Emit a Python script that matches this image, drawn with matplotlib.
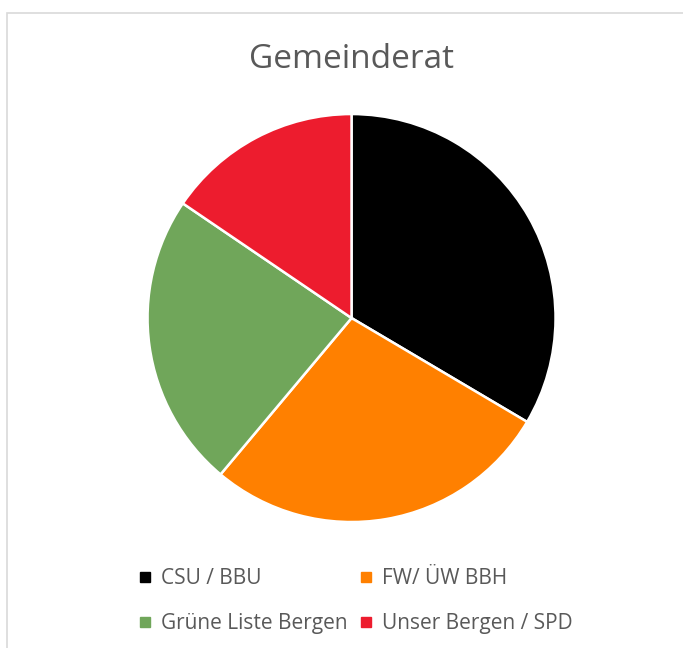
import matplotlib
matplotlib.use('Agg')
import matplotlib.pyplot as plt
from matplotlib.lines import Line2D
from matplotlib.patches import Rectangle

plt.rcParams['font.family'] = ['Open Sans', 'DejaVu Sans']

# seat shares (percent)
parties = ['CSU / BBU', 'FW/ ÜW BBH', 'Grüne Liste Bergen', 'Unser Bergen / SPD']
shares = [33.5, 27.6, 23.4, 15.5]
colors = ['#000000', '#FF8000', '#70A65A', '#ED1C2E']

fig = plt.figure(figsize=(6.83, 6.48), dpi=100)

# chart area border (light gray frame, cut off at right/bottom)
fig.patches.append(Rectangle((7/683, -0.1), 1.1, (648-13)/648 + 0.1,
                             transform=fig.transFigure, fill=False,
                             edgecolor='#D9D9D9', linewidth=1.2))

ax = fig.add_axes([0.216, 0.1944, 0.5974, 0.6296])
ax.pie(shares, colors=colors, startangle=90, counterclock=False, radius=1,
       wedgeprops=dict(edgecolor='white', linewidth=1.8))
ax.set_xlim(-1, 1)
ax.set_ylim(-1, 1)
ax.set_aspect('equal')
ax.axis('off')

fig.text(0.5146, 1 - 59/648, 'Gemeinderat', ha='center', va='center',
         fontsize=24, color='#595959')

handles = [Line2D([], [], marker='s', linestyle='none', markersize=7,
                  markerfacecolor=c, markeredgecolor=c) for c in colors]
# legend fills column-wise, reorder so it reads row-wise
order = [0, 2, 1, 3]
fig.legend([handles[i] for i in order], [parties[i] for i in order], ncol=2,
           loc='center', bbox_to_anchor=(0.52, 1 - 601/648), frameon=False,
           fontsize=15, labelcolor='#595959', handlelength=0.7,
           handletextpad=0.45, columnspacing=0.5, labelspacing=1.15)

fig.savefig('out.png', dpi=100)
